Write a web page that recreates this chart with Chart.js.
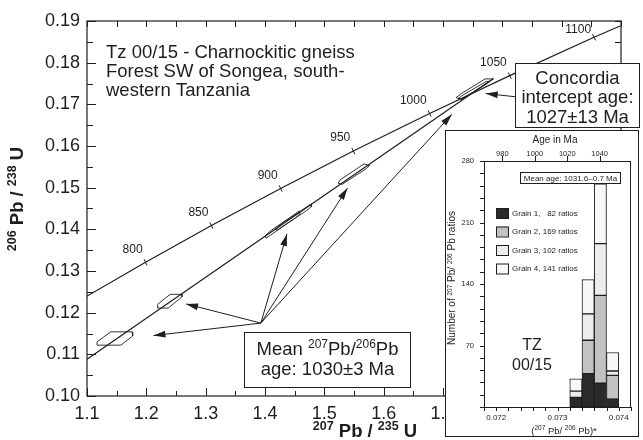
<!DOCTYPE html>
<html>
<head>
<meta charset="utf-8">
<script src="https://cdn.jsdelivr.net/npm/chart.js@4.4.0/dist/chart.umd.min.js"></script>
<style>
  body { margin: 0; background: #fff; }
  #wrap { position: relative; width: 643px; height: 440px; overflow: hidden; }
  #mainChart { position: absolute; left: 0; top: 0; }
  #insetChart { position: absolute; left: 445px; top: 130px; }
</style>
</head>
<body>
<div id="wrap">
  <canvas id="mainChart" width="643" height="440"></canvas>
  <canvas id="insetChart" width="195" height="308"></canvas>
</div>
<script>
// concordia curve (age in Ma, 207Pb/235U, 206Pb/238U)
var concordiaAges = [750, 800, 850, 900, 950, 1000, 1050, 1100, 1115];
var concordiaX = [1.0930, 1.1987, 1.3097, 1.4264, 1.5488, 1.6774, 1.8125, 1.9546, 1.9985];
var concordiaY = [0.1234, 0.1321, 0.1409, 0.1498, 0.1588, 0.1678, 0.1769, 0.1861, 0.1888];
var concordiaTicks = [800, 850, 900, 950, 1000, 1050, 1100];

// discordia line
var discordiaX = [1.10, 1.785];
var discordiaY = [0.1088, 0.1762];

// error ellipses (outline corners)
var ellipseA = [[1.117, 0.1122], [1.117, 0.1130], [1.140, 0.1154], [1.176, 0.1154], [1.177, 0.1144], [1.157, 0.1122]];
var ellipseB = [[1.219, 0.1211], [1.219, 0.1220], [1.240, 0.1244], [1.260, 0.1244], [1.260, 0.1238], [1.237, 0.1211]];
var ellipseC1 = [[1.400, 0.1384], [1.409, 0.1396], [1.458, 0.1444], [1.459, 0.1437], [1.451, 0.1427], [1.402, 0.1379]];
var ellipseC2 = [[1.419, 0.1403], [1.429, 0.1415], [1.478, 0.1461], [1.478, 0.1454], [1.469, 0.1444], [1.420, 0.1398]];
var ellipseD = [[1.523, 0.1511], [1.528, 0.1520], [1.567, 0.1557], [1.576, 0.1553], [1.571, 0.1546], [1.530, 0.1508]];
var ellipseE1 = [[1.722, 0.1716], [1.731, 0.1726], [1.771, 0.1761], [1.785, 0.1761], [1.775, 0.1751], [1.732, 0.1712]];
var ellipseE2 = [[1.726, 0.1714], [1.732, 0.1721], [1.773, 0.1755], [1.778, 0.1755], [1.773, 0.1749], [1.732, 0.1713]];

// arrows
var arrowFrom = [1.393, 0.1175];
var arrowTips = [[1.212, 0.1145], [1.267, 0.1221], [1.437, 0.1389], [1.539, 0.1499], [1.715, 0.1676]];
var interceptArrow = [[1.823, 0.1718], [1.772, 0.1726]];

// tick labels
var xTickLabels = ['1.1', '1.2', '1.3', '1.4', '1.5', '1.6', '1.7', '1.8', '1.9', '2.0'];
var yTickLabels = ['0.10', '0.11', '0.12', '0.13', '0.14', '0.15', '0.16', '0.17', '0.18', '0.19'];

// inset histogram (207Pb/206Pb bins, counts per grain)
var binCenters = [0.0733, 0.0735, 0.0737, 0.0739];
var grain1 = [11, 38, 27, 9];
var grain2 = [0, 38, 100, 27];
var grain3 = [7, 30, 59, 5];
var grain4 = [14, 39, 68, 21];
var grainLabels = ['Grain 1,   82 ratios', 'Grain 2, 169 ratios', 'Grain 3, 102 ratios', 'Grain 4, 141 ratios'];
var ageTicks = [980, 1000, 1020, 1040];
var insetXLabels = ['0.072', '0.073', '0.074'];
var insetYTicks = [70, 140, 210, 280];

var FONT = "'Liberation Sans', Arial, Helvetica, sans-serif";
var INK = '#1e1e1e';
Chart.defaults.font.family = FONT;
Chart.defaults.color = INK;

function pairs(list) {
    return list.map(function (p) { return { x: p[0], y: p[1] }; });
}
function closed(list) {
    return pairs(list.concat([list[0]]));
}

// text with superscripts: parts = [[text, isSup], ...]
function drawRich(ctx, parts, x, y, o) {
    var w = 0;
    parts.forEach(function (p) {
        ctx.font = o.weight + ' ' + (p[1] ? o.sup : o.size) + 'px ' + FONT;
        w += ctx.measureText(p[0]).width;
    });
    var cx = x - w / 2;
    ctx.textAlign = 'left';
    ctx.textBaseline = 'alphabetic';
    parts.forEach(function (p) {
        ctx.font = o.weight + ' ' + (p[1] ? o.sup : o.size) + 'px ' + FONT;
        ctx.fillText(p[0], cx, p[1] ? y - o.rise : y);
        cx += ctx.measureText(p[0]).width;
    });
}

function textBox(ctx, x0, y0, x1, y1, lines, cx, size) {
    ctx.fillStyle = '#fff';
    ctx.fillRect(x0, y0, x1 - x0, y1 - y0);
    ctx.strokeStyle = INK;
    ctx.lineWidth = 1;
    ctx.strokeRect(x0 + 0.5, y0 + 0.5, x1 - x0, y1 - y0);
    ctx.fillStyle = INK;
    lines.forEach(function (l) {
        drawRich(ctx, l[0], cx, l[1], { weight: 'normal', size: size, sup: 12, rise: 7 });
    });
}

var lineDs = function (data, width) {
    return { data: data, showLine: true, borderColor: INK, borderWidth: width || 1, pointRadius: 0, fill: false, tension: 0 };
};

var datasets = [];
var concordia = lineDs(concordiaX.map(function (x, i) { return { x: x, y: concordiaY[i] }; }), 1.2);
concordia.pointStyle = 'line';
concordia.rotation = 64;
concordia.pointBorderColor = INK;
concordia.pointBorderWidth = 1;
concordia.pointRadius = function (c) { return concordiaTicks.indexOf(concordiaAges[c.dataIndex]) >= 0 ? 3.5 : 0; };
datasets.push(concordia);
datasets.push(lineDs(discordiaX.map(function (x, i) { return { x: x, y: discordiaY[i] }; }), 1.2));
[ellipseA, ellipseB, ellipseC1, ellipseC2, ellipseD, ellipseE1, ellipseE2].forEach(function (e) {
    datasets.push(lineDs(closed(e), 0.9));
});
arrowTips.forEach(function (t) {
    var d = lineDs(pairs([arrowFrom, t]), 1);
    d.arrow = true;
    datasets.push(d);
});
var ia = lineDs(pairs(interceptArrow), 1);
ia.arrow = true;
datasets.push(ia);

// frame, inward ticks, arrowheads, labels and boxes
var mainDecor = {
    id: 'mainDecor',
    beforeDatasetsDraw: function (chart) {
        var ctx = chart.ctx, a = chart.chartArea, sx = chart.scales.x, sy = chart.scales.y;
        ctx.save();
        ctx.strokeStyle = INK;
        ctx.lineWidth = 1.2;
        ctx.strokeRect(a.left, a.top, a.right - a.left, a.bottom - a.top);
        ctx.lineWidth = 1;
        ctx.beginPath();
        for (var i = 0; i <= 18; i++) {
            var xp = Math.round(sx.getPixelForValue(sx.min + i * 0.05)) + 0.5;
            var len = i % 2 === 0 ? 8 : 5;
            ctx.moveTo(xp, a.bottom); ctx.lineTo(xp, a.bottom - len);
            ctx.moveTo(xp, a.top); ctx.lineTo(xp, a.top + 6);
        }
        for (var j = 0; j <= 18; j++) {
            var yp = Math.round(sy.getPixelForValue(sy.min + j * 0.005)) + 0.5;
            var l2 = j % 2 === 0 ? 9 : 6;
            ctx.moveTo(a.left, yp); ctx.lineTo(a.left + l2, yp);
            ctx.moveTo(a.right, yp); ctx.lineTo(a.right - 6, yp);
        }
        ctx.stroke();
        ctx.restore();
    },
    afterDatasetsDraw: function (chart) {
        var ctx = chart.ctx, a = chart.chartArea;
        ctx.save();
        // arrowheads
        ctx.fillStyle = INK;
        chart.data.datasets.forEach(function (ds, i) {
            if (!ds.arrow) return;
            var pts = chart.getDatasetMeta(i).data;
            var p0 = pts[0], p1 = pts[1];
            var ang = Math.atan2(p1.y - p0.y, p1.x - p0.x);
            var L = 12, W = 3.4;
            ctx.beginPath();
            ctx.moveTo(p1.x, p1.y);
            ctx.lineTo(p1.x - L * Math.cos(ang) + W * Math.sin(ang), p1.y - L * Math.sin(ang) - W * Math.cos(ang));
            ctx.lineTo(p1.x - L * Math.cos(ang) - W * Math.sin(ang), p1.y - L * Math.sin(ang) + W * Math.cos(ang));
            ctx.closePath();
            ctx.fill();
        });
        // concordia age labels
        var meta = chart.getDatasetMeta(0).data;
        ctx.font = '12px ' + FONT;
        ctx.textAlign = 'right';
        ctx.textBaseline = 'middle';
        concordiaAges.forEach(function (age, i) {
            if (concordiaTicks.indexOf(age) < 0) return;
            var p = meta[i];
            ctx.fillText(String(age), p.x - 3, Math.max(p.y - 13, a.top + 9));
        });
        // sample title
        ctx.font = '18.5px ' + FONT;
        ctx.textAlign = 'left';
        ctx.textBaseline = 'alphabetic';
        ['Tz 00/15 - Charnockitic gneiss', 'Forest SW of Songea, south-', 'western Tanzania'].forEach(function (t, k) {
            ctx.fillText(t, 106, 58 + k * 19);
        });
        // boxes
        textBox(ctx, 515, 63, 639, 127, [
            [[['Concordia', false]], 83.5],
            [[['intercept age:', false]], 103],
            [[['1027\u00b113 Ma', false]], 122.5]
        ], 577.5, 18.5);
        textBox(ctx, 244, 332, 410, 387, [
            [[['Mean ', false], ['207', true], ['Pb/', false], ['206', true], ['Pb', false]], 355],
            [[['age: 1030\u00b13 Ma', false]], 374.5]
        ], 327.5, 18.5);
        // axis titles
        ctx.fillStyle = INK;
        drawRich(ctx, [['207', true], [' Pb / ', false], ['235', true], [' U', false]], 365, 437,
            { weight: 'bold', size: 18.5, sup: 12.5, rise: 7 });
        ctx.translate(23, 199);
        ctx.rotate(-Math.PI / 2);
        drawRich(ctx, [['206', true], [' Pb / ', false], ['238', true], [' U', false]], 0, 0,
            { weight: 'bold', size: 18.5, sup: 12.5, rise: 7 });
        ctx.restore();
    }
};

var mainChart = new Chart(document.getElementById('mainChart').getContext('2d'), {
    type: 'scatter',
    data: { datasets: datasets },
    options: {
        responsive: false,
        animation: false,
        devicePixelRatio: 1,
        layout: { padding: { top: 21, right: 22, left: 0, bottom: 0 } },
        scales: {
            x: {
                type: 'linear',
                min: 1.1,
                max: 2.0,
                grid: { display: false, drawTicks: false },
                border: { display: false },
                ticks: {
                    stepSize: 0.1,
                    includeBounds: false,
                    autoSkip: false,
                    padding: 7,
                    font: { size: 18 },
                    color: INK,
                    maxRotation: 0,
                    callback: function (v) { return xTickLabels[Math.round((v - 1.1) * 10)]; }
                },
                afterFit: function (s) { s.height = 44; }
            },
            y: {
                type: 'linear',
                min: 0.10,
                max: 0.19,
                grid: { display: false, drawTicks: false },
                border: { display: false },
                ticks: {
                    stepSize: 0.01,
                    includeBounds: false,
                    autoSkip: false,
                    padding: 7,
                    font: { size: 18 },
                    color: INK,
                    callback: function (v) { return yTickLabels[Math.round((v - 0.10) * 100)]; }
                },
                afterFit: function (s) { s.width = 87; }
            }
        },
        plugins: { legend: { display: false }, tooltip: { enabled: false } }
    },
    plugins: [mainDecor]
});

// ---- inset histogram ----
var grainColors = ['#2a2a2a', '#c2c2c2', '#ececec', '#f7f7f7'];
var grainData = [grain1, grain2, grain3, grain4];

var insetDecor = {
    id: 'insetDecor',
    beforeDraw: function (chart) {
        var ctx = chart.ctx;
        ctx.save();
        ctx.fillStyle = '#fff';
        ctx.fillRect(0, 0, chart.width, chart.height);
        ctx.restore();
    },
    afterDraw: function (chart) {
        var ctx = chart.ctx, a = chart.chartArea;
        var sx = chart.scales.x, sy = chart.scales.y, st = chart.scales.x2;
        ctx.save();
        ctx.strokeStyle = INK;
        ctx.lineWidth = 1;
        ctx.strokeRect(0.5, 0.5, chart.width - 2, chart.height - 2);
        ctx.strokeRect(a.left + 0.5, a.top + 0.5, a.right - a.left - 1, a.bottom - a.top);
        ctx.beginPath();
        for (var i = 0; i <= 20; i++) {
            var yp = Math.round(sy.getPixelForValue(i * 14)) + 0.5;
            ctx.moveTo(a.left - 4, yp); ctx.lineTo(a.left, yp);
        }
        for (var j = 0; j <= 12; j++) {
            var xp = Math.round(sx.getPixelForValue(sx.min + j * 0.0002)) + 0.5;
            ctx.moveTo(xp, a.bottom); ctx.lineTo(xp, a.bottom + 4);
        }
        ageTicks.forEach(function (t) {
            var tp = Math.round(st.getPixelForValue(t)) + 0.5;
            ctx.moveTo(tp, a.top - 5); ctx.lineTo(tp, a.top);
        });
        ctx.stroke();

        // count labels on the left axis
        ctx.fillStyle = INK;
        ctx.font = '7.5px ' + FONT;
        ctx.textAlign = 'right';
        ctx.textBaseline = 'middle';
        insetYTicks.forEach(function (v) {
            ctx.fillText(String(v), a.left - 10, sy.getPixelForValue(v));
        });

        // legend
        ctx.font = '8px ' + FONT;
        ctx.textAlign = 'left';
        grainLabels.forEach(function (lab, k) {
            var cy = 83 + k * 18.5;
            ctx.fillStyle = grainColors[k];
            ctx.fillRect(51, cy - 5, 12, 10);
            ctx.strokeRect(51.5, cy - 4.5, 12, 10);
            ctx.fillStyle = INK;
            ctx.fillText(lab, 67, cy + 0.5);
        });

        // mean age box
        ctx.fillStyle = '#fff';
        ctx.fillRect(75, 42, 100, 11);
        ctx.strokeRect(75.5, 42.5, 100, 11);
        ctx.fillStyle = INK;
        ctx.textAlign = 'center';
        ctx.fillText('Mean age: 1031.6\u20130.7 Ma', 125.5, 48.5);

        // sample label
        ctx.font = '16px ' + FONT;
        ctx.fillText('TZ', 87, 215.5);
        ctx.fillText('00/15', 87, 235.5);

        // titles
        ctx.font = '10px ' + FONT;
        ctx.fillText('Age in Ma', 110, 10.5);
        ctx.fillStyle = INK;
        drawRich(ctx, [['(', false], ['207', true], [' Pb/ ', false], ['206', true], [' Pb)*', false]], 119, 303.5,
            { weight: 'normal', size: 9.5, sup: 6.5, rise: 3.5 });
        ctx.translate(10, 148);
        ctx.rotate(-Math.PI / 2);
        drawRich(ctx, [['Number of ', false], ['207', true], [' Pb/ ', false], ['206', true], [' Pb ratios', false]], 0, 0,
            { weight: 'normal', size: 10, sup: 6.5, rise: 3.5 });
        ctx.restore();
    }
};

var insetChart = new Chart(document.getElementById('insetChart').getContext('2d'), {
    type: 'bar',
    data: {
        datasets: grainData.map(function (g, k) {
            return {
                label: grainLabels[k],
                data: binCenters.map(function (b, i) { return { x: b, y: g[i] }; }),
                backgroundColor: grainColors[k],
                borderColor: INK,
                borderWidth: 1,
                borderSkipped: false,
                barPercentage: 1,
                categoryPercentage: 1
            };
        })
    },
    options: {
        responsive: false,
        animation: false,
        devicePixelRatio: 1,
        layout: { padding: { top: 0, right: 9, left: 0, bottom: 0 } },
        scales: {
            x: {
                type: 'linear',
                stacked: true,
                offset: false,
                min: 0.0718,
                max: 0.0742,
                grid: { display: false, drawTicks: false },
                border: { display: false },
                ticks: {
                    stepSize: 0.001,
                    includeBounds: false,
                    autoSkip: false,
                    padding: 6,
                    font: { size: 8 },
                    color: INK,
                    maxRotation: 0,
                    callback: function (v) { return insetXLabels[Math.round((v - 0.072) * 1000)]; }
                },
                afterFit: function (s) { s.height = 31; }
            },
            x2: {
                type: 'linear',
                position: 'top',
                min: 980,
                max: 1048,
                grid: { display: false, drawTicks: false },
                border: { display: false },
                ticks: {
                    stepSize: 20,
                    includeBounds: false,
                    autoSkip: false,
                    padding: 3,
                    font: { size: 7.5 },
                    color: INK,
                    maxRotation: 0,
                    callback: function (v) { return String(ageTicks[Math.round((v - 980) / 20)]); }
                },
                afterFit: function (s) { s.height = 31; }
            },
            y: {
                stacked: true,
                min: 0,
                max: 280,
                grid: { display: false, drawTicks: false },
                border: { display: false },
                ticks: { display: false },
                afterFit: function (s) { s.width = 39; }
            }
        },
        plugins: { legend: { display: false }, tooltip: { enabled: false } }
    },
    plugins: [insetDecor]
});
</script>
</body>
</html>
